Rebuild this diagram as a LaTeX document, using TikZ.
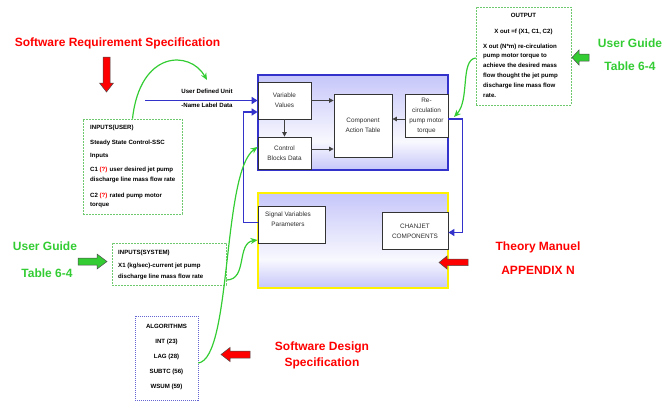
\documentclass[tikz,border=0pt]{standalone}
\usepackage{fontspec}
\setmainfont{Liberation Sans}
\usetikzlibrary{arrows.meta}

\definecolor{panelblue}{RGB}{51,51,204}
\definecolor{lav}{RGB}{198,198,250}
\colorlet{panelwhite}{white!88!lav}
\definecolor{titlered}{RGB}{255,0,0}
\definecolor{titlegreen}{RGB}{51,204,51}
\definecolor{dashgreen}{RGB}{110,200,110}
\definecolor{algoblue}{RGB}{100,100,210}
\definecolor{boxtext}{RGB}{45,45,45}

\pgfdeclareverticalshading{panelshade}{100bp}{color(0bp)=(lav); color(25bp)=(lav); color(40bp)=(panelwhite); color(75bp)=(lav); color(100bp)=(lav)}

\tikzset{
  panel/.style={line width=1.4pt, shading=panelshade, inner sep=0pt,
    minimum width=190pt, minimum height=95pt},
  blk/.style={draw=black!80, line width=0.8pt, fill=white, inner sep=0pt,
    font=\fontsize{6.4}{10}\selectfont, text=boxtext, align=center},
  boxlabel/.style={inner sep=0pt, font=\fontsize{6.4}{10}\selectfont, text=boxtext, align=center},
  inner/.style={-{Triangle[length=4.5pt,width=4.5pt]}, draw=black!75, line width=0.8pt},
  feed/.style={-{Triangle[length=6pt,width=7pt]}, draw=panelblue, line width=1.6pt},
  hint/.style={-{Stealth[length=7pt,width=6pt]}, draw=titlegreen, line width=1.2pt},
  note/.style={draw=dashgreen, dash pattern=on 2pt off 1pt, line width=0.6pt, inner sep=0pt},
  algobox/.style={draw=algoblue, dash pattern=on 1pt off 1pt, line width=0.7pt, inner sep=0pt},
  notetext/.style={inner sep=0pt, font=\fontsize{6.1}{10}\selectfont\bfseries, text=black, align=left},
  title/.style={inner sep=0pt, font=\fontsize{12}{14}\selectfont\bfseries, align=center},
  redblock/.style={fill=titlered, draw=black!70, line width=0.5pt},
  greenblock/.style={fill=titlegreen, draw=black!70, line width=0.5pt}
}

\begin{document}
\begin{tikzpicture}[x=1pt,y=-1pt]
\useasboundingbox (0,0) rectangle (664,410);

% shaded panels
\node[panel, draw=panelblue] (toppanel) at (353,122.5) {};
\node[panel, draw=yellow] (lowpanel) at (353,240.5) {};

% blocks of the upper panel
\node[blk, minimum width=53pt, minimum height=37pt] (vv) at (284.5,100.5) {Variable\\Values};
\node[blk, minimum width=53pt, minimum height=32pt] (cb) at (284.5,153) {Control\\Blocks Data};
\node[blk, minimum width=58pt, minimum height=63pt] (cat) at (363,125.5) {Component\\Action Table};
\node[blk, minimum width=43pt, minimum height=43pt] (rc) at (426.5,115.5) {Re-\\circulation\\pump motor\\torque};

% blocks of the lower panel
\node[blk, minimum width=67pt, minimum height=37pt] (sv) at (291.5,224.5) {};
\node[boxlabel] (svtext) at (288,219) {Signal Variables\\Parameters};
\node[blk, minimum width=66pt, minimum height=37pt] (cj) at (415,231) {CHANJET\\COMPONENTS};

% arrows inside the upper panel
\draw[inner] (vv.east) -- (vv.east -| cat.west);
\draw[inner] ([yshift=4pt]cb.east) -- ([yshift=4pt]cb.east -| cat.west);
\draw[inner] (vv.south) -- (cb.north);
\draw[inner] ([yshift=-3.5pt]rc.west) -- ([yshift=-3.5pt]rc.west -| cat.east);

% blue data paths
\coordinate (udstart) at (145,100.5);
\draw[feed] (udstart) -- (vv.west);
\node[notetext, align=center, font=\fontsize{6.1}{14}\selectfont\bfseries] (udtext) at (207,98) {User Defined Unit\\-Name Label Data};
\draw[feed] ([yshift=2pt]sv.west) -- ++(-14,0) |- ([yshift=-11.5pt]vv.west);
\draw[feed] ([yshift=-3.5pt]rc.east) -- ++(14,0) |- ([yshift=-1.5pt]cj.east);

% user inputs
\node[note, minimum width=99pt, minimum height=95pt] (inuser) at (132.5,166.5) {};
\node[notetext, anchor=north west] (inusertext) at (90,125) {INPUTS(USER)\\[5pt]
Steady State Control-SSC\\[3pt]
Inputs\\[4pt]
C1 \textcolor{titlered}{(?)} user desired jet pump\\
discharge line mass flow rate\\[6pt]
C2 \textcolor{titlered}{(?)} rated pump motor\\[-1pt]
torque};
\coordinate (udtip) at (207,80);
\draw[hint] (inuser.north) .. controls (140,50) and (190,50) .. (udtip);

% output
\node[note, minimum width=95pt, minimum height=98pt] (out) at (523.5,56) {};
\node[notetext, align=center, font=\fontsize{6.1}{16}\selectfont\bfseries] (outhead) at (523.5,24) {OUTPUT\\X out =f (X1, C1, C2)};
\node[notetext, anchor=north west, font=\fontsize{6.1}{9.8}\selectfont\bfseries] (outbody) at (483,43.5) {X out (N*m) re-circulation\\
pump motor torque to\\
achieve the desired mass\\
flow thought the jet pump\\
discharge line mass flow\\
rate.};
\coordinate (outtip) at (454,117);
\draw[hint] ([yshift=-2pt]out.west) .. controls (460,60) and (470,100) .. (outtip);

% system inputs
\node[note, minimum width=114pt, minimum height=42pt] (insys) at (169,264) {};
\node[notetext, anchor=north west] (insystext) at (118,249.5) {INPUTS(SYSTEM)\\[3pt]
X1 (kg/sec)-current jet pump\\[1pt]
discharge line mass flow rate};
\draw[hint] ([yshift=-16pt]insys.east) .. controls (248,280) and (236,243) .. ([yshift=-15.5pt]sv.west);

% algorithms
\node[algobox, minimum width=63pt, minimum height=84pt] (algo) at (166.5,358) {};
\node[notetext, align=center, font=\fontsize{6.1}{15}\selectfont\bfseries] (algotext) at (166.5,356.5) {ALGORITHMS\\INT (23)\\LAG (28)\\SUBTC (56)\\WSUM (59)};
\draw[hint] ([yshift=-5pt]algo.east) .. controls (232,358) and (222,172) .. ([yshift=6pt]cb.west);

% reference documents
\node[title, text=titlered] (srs) at (117.5,43) {Software Requirement Specification};
\node[title, text=titlegreen] (ugright) at (630,43) {User Guide};
\node[title, text=titlegreen] (tabright) at (630,66) {Table 6-4};
\node[title, text=titlegreen] (ugleft) at (45,246) {User Guide};
\node[title, text=titlegreen] (tableft) at (47,273) {Table 6-4};
\node[title, text=titlered] (theory) at (538,247) {Theory Manuel};
\node[title, text=titlered] (appn) at (538,270) {APPENDIX N};
\node[title, text=titlered] (sds) at (322,355) {Software Design\\[2pt]Specification};

% block arrows
\filldraw[redblock] (103,57) -- (110,57) -- (110,83) -- (113.5,83) -- (106.5,92) -- (99.5,83) -- (103,83) -- cycle;
\filldraw[greenblock] (78,258) -- (97,258) -- (97,254) -- (107,261.5) -- (97,269) -- (97,265) -- (78,265) -- cycle;
\filldraw[greenblock] (589,54) -- (579,54) -- (579,50) -- (572,57.5) -- (579,65) -- (579,61) -- (589,61) -- cycle;
\filldraw[redblock] (250,351) -- (230,351) -- (230,347.5) -- (221,354.5) -- (230,361.5) -- (230,358) -- (250,358) -- cycle;
\filldraw[redblock] (468,259) -- (447,259) -- (447,256) -- (439,262.5) -- (447,269) -- (447,265.5) -- (468,265.5) -- cycle;
\end{tikzpicture}
\end{document}
